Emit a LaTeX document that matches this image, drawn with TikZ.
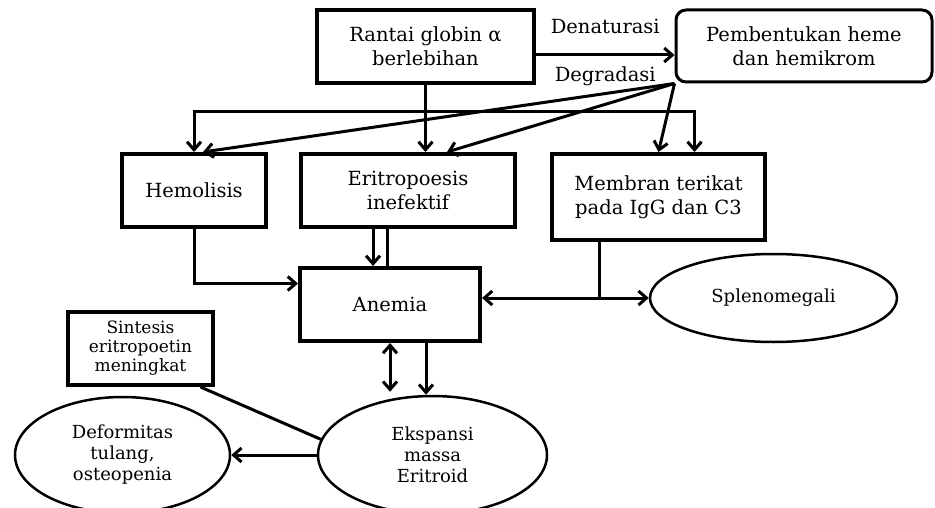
\documentclass[tikz,border=0pt]{standalone}
\usepackage{fontspec}
\setmainfont{DejaVu Serif}
\usetikzlibrary{arrows.meta,shapes.geometric}

\begin{document}
\begin{tikzpicture}[x=1pt, y=-1pt,
    >={Straight Barb[length=8pt, width=14pt]},
    box/.style={draw, line width=4pt, inner sep=0pt, align=center, font=\fontsize{19.5}{24}\selectfont},
    oval/.style={draw, ellipse, line width=2.5pt, inner sep=0pt, align=center, font=\fontsize{18}{21}\selectfont},
    lbl/.style={inner sep=0pt, font=\fontsize{19.5}{24}\selectfont},
    link/.style={line width=3pt}]
    \useasboundingbox (0,0) rectangle (935,508);

    % Boxes and ovals, placed at the layout positions
    \node[box, minimum width=217pt, minimum height=73pt] (rantai) at (425.5,46.5) {Rantai globin α\\berlebihan};
    \node[box, line width=3pt, rounded corners=10pt, minimum width=256pt, minimum height=72pt] (pembentukan) at (804,46) {Pembentukan heme\\dan hemikrom};
    \node[box, minimum width=144pt, minimum height=73pt] (hemolisis) at (194,190.5) {Hemolisis};
    \node[box, minimum width=214pt, minimum height=73pt] (eritro) at (408,190.5) {Eritropoesis\\inefektif};
    \node[box, minimum width=213pt, minimum height=86pt] (membran) at (658.5,197) {Membran terikat\\pada IgG dan C3};
    \node[box, minimum width=180pt, minimum height=73pt] (anemia) at (390,304.5) {Anemia};
    \node[box, minimum width=145pt, minimum height=73pt, font=\fontsize{17}{19}\selectfont] (sintesis) at (140.5,348.5) {Sintesis\\eritropoetin\\meningkat};
    \node[oval, minimum width=247pt, minimum height=88pt] (spleno) at (773.5,298) {Splenomegali};
    \node[oval, minimum width=229pt, minimum height=118pt] (ekspansi) at (432.5,455) {Ekspansi\\massa\\Eritroid};
    \node[oval, minimum width=215pt, minimum height=116pt] (deformitas) at (122.5,455) {Deformitas\\tulang,\\osteopenia};

    % Helper points
    \coordinate (denat) at (0,55);
    \coordinate (fork) at (0,112);
    \coordinate (split) at (599,298);

    % Top row
    \draw[link, ->] (rantai.east |- denat) -- node[lbl, above=20pt] {Denaturasi} node[lbl, below=10pt] {Degradasi} (pembentukan.west |- denat);
    \draw[link, ->] (rantai.south) -- (rantai.south |- eritro.north);
    \draw[link, ->] (rantai.south |- fork) -| (hemolisis.north);
    \draw[link, ->] (rantai.south |- fork) -| ([xshift=36pt]membran.north);
    \draw[link, ->] (pembentukan.south west) -- ([xshift=9pt]hemolisis.north);
    \draw[link, ->] (pembentukan.south west) -- ([xshift=39pt]eritro.north);
    \draw[link, ->] (pembentukan.south west) -- (membran.north);

    % Into Anemia
    \draw[link, ->] (hemolisis.south) |- ([yshift=21pt]anemia.west);
    \draw[link, ->] ([xshift=-35pt]eritro.south) -- ([xshift=-35pt]eritro.south |- anemia.north);
    \draw[link] ([xshift=-21pt]eritro.south) -- ([xshift=-21pt]eritro.south |- anemia.north);
    \draw[link] (split |- membran.south) -- (split);
    \draw[link, ->] (split) -- (anemia.east |- split);
    \draw[link, ->] (split) -- (spleno.west |- split);

    % Bottom part
    \draw[link, <->, shorten >=3pt] (anemia.south) -- (anemia.south |- ekspansi.north);
    \draw[link, ->] ([xshift=36pt]anemia.south) -- ([xshift=36pt]anemia.south |- ekspansi.north);
    \draw[link, ->] (ekspansi.west) -- (deformitas.east);
    \draw[link] ([xshift=60pt]sintesis.south) -- (ekspansi.172);
\end{tikzpicture}
\end{document}
